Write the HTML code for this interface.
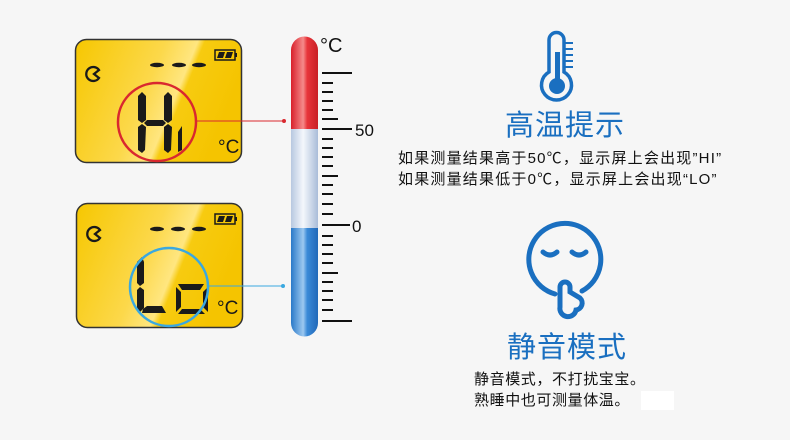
<!DOCTYPE html>
<html><head><meta charset="utf-8"><style>
html,body{margin:0;padding:0;background:#f6f6f6}
body{width:790px;height:440px;overflow:hidden;position:relative;font-family:"Liberation Sans","Noto Sans CJK SC",sans-serif}
.t{position:absolute;white-space:nowrap;color:#111}
</style></head><body>
<svg width="790" height="440" style="position:absolute;left:0;top:0">
<defs>
<linearGradient id="lcd" x1="0" y1="0" x2="1" y2="0.3">
<stop offset="0" stop-color="#f6c700"/><stop offset="0.5" stop-color="#fcd84a"/><stop offset="0.68" stop-color="#ffe680"/><stop offset="0.72" stop-color="#f7cb10"/><stop offset="1" stop-color="#f5c400"/></linearGradient>
<linearGradient id="red" x1="0" y1="0" x2="1" y2="0"><stop offset="0" stop-color="#d8202a"/><stop offset="0.45" stop-color="#f58a8a"/><stop offset="0.6" stop-color="#e8353a"/><stop offset="1" stop-color="#c81f25"/></linearGradient>
<linearGradient id="wht" x1="0" y1="0" x2="1" y2="0"><stop offset="0" stop-color="#b8c8e0"/><stop offset="0.45" stop-color="#f4f7fc"/><stop offset="1" stop-color="#a9bcd8"/></linearGradient>
<linearGradient id="blu" x1="0" y1="0" x2="1" y2="0"><stop offset="0" stop-color="#2a79c8"/><stop offset="0.45" stop-color="#9cc8f0"/><stop offset="0.6" stop-color="#3a8ad8"/><stop offset="1" stop-color="#2168b8"/></linearGradient>
</defs>
<!-- LCD 1 -->
<rect x="75.5" y="39.5" width="166" height="123" rx="11" fill="url(#lcd)" stroke="#333" stroke-width="1.5"/>
<g fill="#1a1a1a">
<path d="M99,70 A7,7 0 1 0 99,78 L94,74 Z" fill="none" stroke="#1a1a1a" stroke-width="2.3"/>
<ellipse cx="157" cy="65" rx="7" ry="2.2"/><ellipse cx="179" cy="65" rx="7" ry="2.2"/><ellipse cx="199" cy="65" rx="7" ry="2.2"/>
<rect x="215" y="50" width="20" height="10" fill="none" stroke="#1a1a1a" stroke-width="1.5"/><rect x="235" y="53" width="2" height="4"/><polygon points="219,52 225,52 223,58 217,58"/><polygon points="227,52 233,52 231,58 225,58"/>
<polygon points="138,96 142,92 146,96 146,120 142,123 138,120"/>
<polygon points="138,127 142,124 146,127 145,150 142,153 138,150"/>
<polygon points="164,96 168,92 172,96 172,120 168,123 164,120"/>
<polygon points="164,127 168,124 172,127 171,150 168,153 164,150"/>
<polygon points="144,123 147,120 163,120 166,123 163,126 147,126"/>
<polygon points="178,132 182,126 182,150 178,152"/>
</g>
<text x="218" y="153" font-size="19" font-family="Liberation Sans" fill="#1a1a1a">°C</text>
<circle cx="157" cy="122" r="39" fill="none" stroke="#d9282f" stroke-width="2.5"/>
<line x1="196" y1="121" x2="284" y2="121" stroke="#d9282f" stroke-width="1"/><circle cx="284" cy="121" r="2" fill="#d9282f"/>
<!-- LCD 2 -->
<rect x="76.5" y="203.5" width="166" height="124" rx="11" fill="url(#lcd)" stroke="#333" stroke-width="1.5"/>
<g fill="#1a1a1a">
<path d="M100,230 A7,7 0 1 0 100,238 L95,234 Z" fill="none" stroke="#1a1a1a" stroke-width="2.3"/>
<ellipse cx="157" cy="229" rx="7" ry="2.2"/><ellipse cx="178" cy="229" rx="7" ry="2.2"/><ellipse cx="199" cy="229" rx="7" ry="2.2"/>
<rect x="215" y="214" width="20" height="10" fill="none" stroke="#1a1a1a" stroke-width="1.5"/><rect x="235" y="217" width="2" height="4"/><polygon points="219,216 225,216 223,222 217,222"/><polygon points="227,216 233,216 231,222 225,222"/>
<polygon points="137,262 142,257 144,262 144,283 140,286 137,283"/>
<polygon points="137,290 140,287 144,290 144,308 140,312 137,310"/>
<polygon points="143,309 147,306 162,306 166,313 142,313"/>
<polygon points="178,284 204,284 200,290 182,290"/>
<polygon points="176,287 181,292 181,307 176,312"/>
<polygon points="208,287 203,292 203,307 208,312"/>
<polygon points="182,309 200,309 205,314 178,314"/>
</g>
<text x="217" y="314" font-size="19" font-family="Liberation Sans" fill="#1a1a1a">°C</text>
<circle cx="169" cy="287" r="39" fill="none" stroke="#3aa8e0" stroke-width="2.5"/>
<line x1="208" y1="286" x2="283" y2="286" stroke="#3aa8e0" stroke-width="1"/><circle cx="283" cy="286" r="2" fill="#3aa8e0"/>
<!-- thermometer bar -->
<path d="M291,129 V50 a13.5,13.5 0 0 1 27,0 V129 Z" fill="url(#red)"/>
<rect x="291" y="129" width="27" height="99" fill="url(#wht)"/>
<path d="M291,228 V323 a13.5,13.5 0 0 0 27,0 V228 Z" fill="url(#blu)"/>
<g stroke="#111" stroke-width="2">
<line x1="322" y1="73" x2="352" y2="73"/>
<line x1="322" y1="129" x2="352" y2="129"/>
<line x1="322" y1="225" x2="350" y2="225"/>
<line x1="322" y1="321" x2="352" y2="321"/>
<line x1="322" y1="83" x2="333" y2="83"/><line x1="322" y1="92" x2="333" y2="92"/><line x1="322" y1="101" x2="333" y2="101"/><line x1="322" y1="110" x2="333" y2="110"/><line x1="322" y1="119" x2="338" y2="119"/>
<line x1="322" y1="139" x2="333" y2="139"/><line x1="322" y1="148" x2="333" y2="148"/><line x1="322" y1="157" x2="333" y2="157"/><line x1="322" y1="166" x2="333" y2="166"/><line x1="322" y1="176" x2="338" y2="176"/><line x1="322" y1="185" x2="333" y2="185"/><line x1="322" y1="194" x2="333" y2="194"/><line x1="322" y1="204" x2="333" y2="204"/><line x1="322" y1="214" x2="333" y2="214"/>
<line x1="322" y1="236" x2="333" y2="236"/><line x1="322" y1="245" x2="333" y2="245"/><line x1="322" y1="254" x2="333" y2="254"/><line x1="322" y1="263" x2="333" y2="263"/><line x1="322" y1="273" x2="338" y2="273"/><line x1="322" y1="282" x2="333" y2="282"/><line x1="322" y1="291" x2="333" y2="291"/><line x1="322" y1="300" x2="333" y2="300"/><line x1="322" y1="310" x2="333" y2="310"/>
</g>
<text x="320" y="52" font-size="20" fill="#111" font-family="Liberation Sans">°C</text>
<text x="355" y="136" font-size="17" fill="#111" font-family="Liberation Sans">50</text>
<text x="352" y="232" font-size="17" fill="#111" font-family="Liberation Sans">0</text>
<!-- thermometer icon -->
<g stroke="#1a6fc0" fill="none" stroke-width="3.5">
<path d="M549,72 V40 a7.5,7.5 0 0 1 15,0 V72 a15,15 0 1 1 -15,0 Z"/>
</g>
<rect x="555" y="52" width="5" height="30" fill="#1a6fc0"/>
<circle cx="557" cy="86" r="8" fill="#1a6fc0"/>
<g stroke="#1a6fc0" stroke-width="2"><line x1="565" y1="43" x2="573" y2="43"/><line x1="565" y1="49" x2="573" y2="49"/><line x1="565" y1="55" x2="573" y2="55"/><line x1="565" y1="61" x2="573" y2="61"/><line x1="565" y1="67" x2="573" y2="67"/></g>
<!-- face icon -->
<g stroke="#1a6fc0" fill="none" stroke-width="5" stroke-linecap="round">
<path d="M555,294 A36,36 0 1 1 582,291"/>
<path d="M543,252 q7,6 14,0"/><path d="M572,252 q7,6 14,0"/>
<path d="M560,303 V287 a5,5 0 0 1 10,0 V292 l10,6 a7,7 0 0 1 -4,12 a8,8 0 0 1 -16,-3 Z" fill="#f6f6f6"/>
</g>
<rect x="641" y="391" width="33" height="19" fill="#fff"/>
</svg>
<div class="t" style="left:505px;top:102px;font-size:29px;color:#1a6fc0;letter-spacing:1px">高温提示</div>
<div class="t" style="left:398px;top:147px;font-size:15px;letter-spacing:1.2px">如果测量结果高于50℃，显示屏上会出现”HI”</div>
<div class="t" style="left:398px;top:168px;font-size:15px;letter-spacing:1.2px">如果测量结果低于0℃，显示屏上会出现“LO”</div>
<div class="t" style="left:507px;top:324px;font-size:29px;color:#1a6fc0;letter-spacing:1px">静音模式</div>
<div class="t" style="left:474px;top:368px;font-size:15px;letter-spacing:0.6px">静音模式，不打扰宝宝。</div>
<div class="t" style="left:474px;top:389px;font-size:15px;letter-spacing:0.6px">熟睡中也可测量体温。</div>
</body></html>
